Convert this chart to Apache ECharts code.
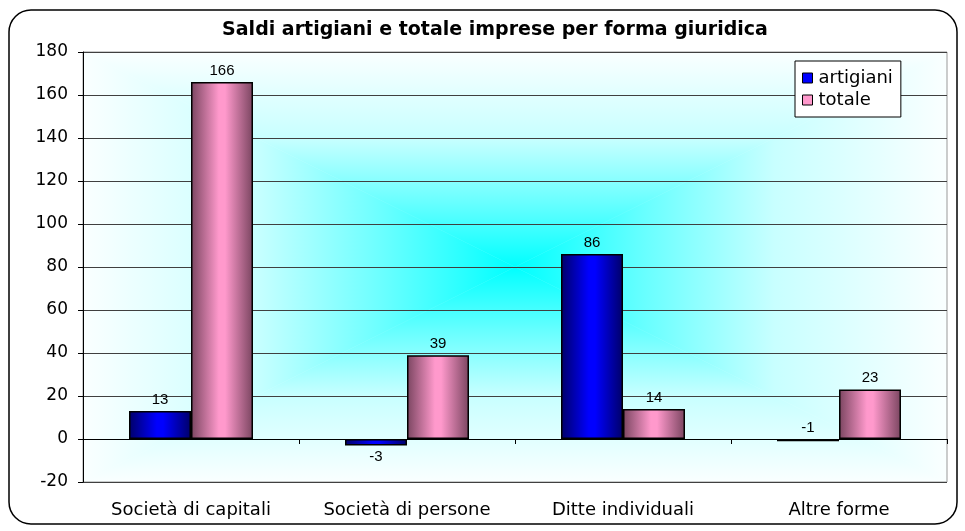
<!DOCTYPE html>
<html>
<head>
<meta charset="utf-8">
<script src="https://cdn.jsdelivr.net/npm/echarts@6/dist/echarts.min.js"></script>
<style>
    html, body { margin: 0; padding: 0; background: #fff; }
    #chart { width: 965px; height: 531px; }
</style>
</head>
<body>
<div id="chart"></div>
<script>
const CATEGORIES = ['Società di capitali', 'Società di persone', 'Ditte individuali', 'Altre forme'];
const ARTIGIANI = [13, -3, 86, -1];
const TOTALE = [166, 39, 14, 23];
const Y_MIN = -20;
const Y_MAX = 180;
const Y_STEP = 20;

const FONT = 'DejaVu Sans, Liberation Sans, sans-serif';
const LABEL_FONT = 'Liberation Sans, Arial, sans-serif';

// plot area box (px)
const G_LEFT = 83, G_TOP = 52, G_W = 864, G_H = 430;

function barGradient(edge, mid) {
    return {
        type: 'linear', x: 0, y: 0, x2: 1, y2: 0,
        colorStops: [
            {offset: 0, color: edge},
            {offset: 0.45, color: mid},
            {offset: 0.55, color: mid},
            {offset: 1, color: edge}
        ]
    };
}

// excel-like "from center" fill: four triangles, each fading to its own edge
function centerFill() {
    const l = G_LEFT, t = G_TOP, r = G_LEFT + G_W, b = G_TOP + G_H;
    const cx = l + G_W / 2, cy = t + G_H / 2;
    const stops = [
        {offset: 0, color: '#00ffff'},
        {offset: 0.3, color: '#68ffff'},
        {offset: 0.6, color: '#c8ffff'},
        {offset: 1, color: '#fafffff'.slice(0, 7)}
    ];
    function grad(x, y, x2, y2) {
        return {type: 'linear', x: x, y: y, x2: x2, y2: y2, global: true, colorStops: stops};
    }
    function tri(points, fill) {
        return {type: 'polygon', shape: {points: points}, style: {fill: fill, stroke: fill, lineWidth: 0.5}, z: -10, silent: true};
    }
    return [
        tri([[l, t], [r, t], [cx, cy]], grad(cx, cy, cx, t)),
        tri([[l, b], [r, b], [cx, cy]], grad(cx, cy, cx, b)),
        tri([[l, t], [l, b], [cx, cy]], grad(cx, cy, l, cy)),
        tri([[r, t], [r, b], [cx, cy]], grad(cx, cy, r, cy))
    ];
}

let chartDom = document.getElementById('chart');
let myChart = echarts.init(chartDom);
let option;

// negative bars: -3 label goes under the bar, -1 sits above the zero line
let artigianiData = ARTIGIANI.map(function (v) {
    if (v === -1) return {value: v, label: {position: 'top'}};
    return v;
});

option = {
    animation: false,
    backgroundColor: '#fff',
    title: {
        text: 'Saldi artigiani e totale imprese per forma giuridica',
        left: 490,
        textAlign: 'center',
        top: 16,
        textStyle: {fontFamily: FONT, fontSize: 19, fontWeight: 'bold', color: '#000'}
    },
    graphic: centerFill().concat([{
        type: 'rect',
        shape: {x: 9, y: 10, width: 948, height: 514, r: 22},
        style: {fill: 'none', stroke: '#000', lineWidth: 1.5},
        z: 100
    }]),
    legend: {
        left: 795,
        top: 61,
        orient: 'vertical',
        icon: 'rect',
        itemWidth: 10,
        itemHeight: 10,
        itemGap: 4,
        padding: [8, 8, 8, 7],
        backgroundColor: '#fff',
        borderColor: '#000',
        borderWidth: 1,
        borderRadius: 0,
        textStyle: {fontFamily: FONT, fontSize: 18, color: '#000', padding: [0, 0, 0, 1]},
        data: [
            {name: 'artigiani', itemStyle: {color: '#0000ff', borderColor: '#000', borderWidth: 1}},
            {name: 'totale', itemStyle: {color: '#ff99cc', borderColor: '#000', borderWidth: 1}}
        ]
    },
    grid: {
        left: G_LEFT,
        top: G_TOP,
        width: G_W,
        height: G_H,
        show: true,
        borderColor: '#999',
        borderWidth: 1,
        backgroundColor: 'transparent'
    },
    xAxis: [
        {
            type: 'category',
            data: CATEGORIES,
            position: 'bottom',
            axisLine: {show: false, onZero: false},
            axisTick: {show: false},
            axisLabel: {interval: 0, hideOverlap: false, fontFamily: FONT, fontSize: 18, color: '#000', margin: 19}
        },
        {
            type: 'category',
            data: CATEGORIES,
            position: 'bottom',
            axisLine: {show: true, onZero: true, lineStyle: {color: '#000', width: 1}},
            axisTick: {show: true, inside: false, length: 5, lineStyle: {color: '#000'}},
            axisLabel: {show: false}
        }
    ],
    yAxis: {
        type: 'value',
        min: Y_MIN,
        max: Y_MAX,
        interval: Y_STEP,
        axisLine: {show: true, lineStyle: {color: '#000', width: 1}},
        axisTick: {show: true, length: 5, lineStyle: {color: '#000'}},
        axisLabel: {fontFamily: FONT, fontSize: 17, color: '#000', margin: 15},
        splitLine: {show: true, lineStyle: {color: '#404040', width: 1}}
    },
    series: [
        {
            name: 'artigiani',
            type: 'bar',
            data: artigianiData,
            barWidth: 62,
            barGap: '0%',
            itemStyle: {color: barGradient('#000068', '#0000ff'), borderColor: '#000', borderWidth: 1.5},
            label: {show: true, position: 'outside', distance: 4, fontFamily: LABEL_FONT, fontSize: 15, color: '#000'}
        },
        {
            name: 'totale',
            type: 'bar',
            data: TOTALE,
            barWidth: 62,
            itemStyle: {color: barGradient('#7a4560', '#ff99cc'), borderColor: '#000', borderWidth: 1.5},
            label: {show: true, position: 'top', distance: 4, fontFamily: LABEL_FONT, fontSize: 15, color: '#000'}
        }
    ]
};

option && myChart.setOption(option);
</script>
</body>
</html>
